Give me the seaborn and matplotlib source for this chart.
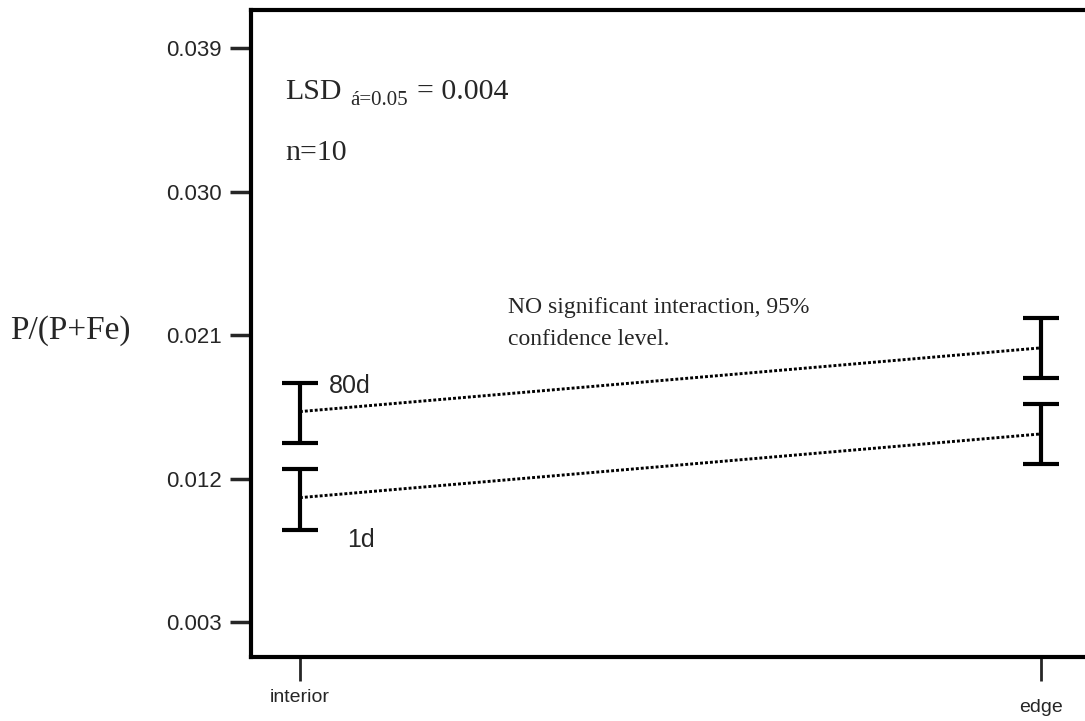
import matplotlib
matplotlib.use("Agg")
import matplotlib.pyplot as plt
import matplotlib.transforms as mtransforms
import seaborn as sns
import pandas as pd

# Data
locations = ["interior", "edge"]
groups = ["80d", "1d"]
mean_80d = [0.0162, 0.0202]
low_80d = [0.0142, 0.0183]
high_80d = [0.0180, 0.0221]
mean_1d = [0.0108, 0.0148]
low_1d = [0.0088, 0.0129]
high_1d = [0.0126, 0.0167]
yticks = [0.003, 0.012, 0.021, 0.030, 0.039]
ytick_labels = ["0.003", "0.012", "0.021", "0.030", "0.039"]

sns.set_style("white")
plt.rcParams["font.family"] = ["Liberation Sans", "DejaVu Sans"]

fig = plt.figure(figsize=(10.85, 7.21), dpi=100)
W, H = 1085, 721
left, right, top, bottom = 251, 1085, 10, 657
ax = fig.add_axes([left / W, 1 - bottom / H, (right - left) / W, (bottom - top) / H])

df = pd.DataFrame({
    "x": [0, 1, 0, 1],
    "y": mean_80d + mean_1d,
    "group": [groups[0]] * 2 + [groups[1]] * 2,
})
sns.lineplot(data=df, x="x", y="y", units="group", estimator=None, color="black",
             lw=2.1, linestyle=(0, (1, 0.7)), ax=ax, legend=False)

xs = [0, 1]
for m, lo, hi in [(mean_80d, low_80d, high_80d), (mean_1d, low_1d, high_1d)]:
    err = [[m[i] - lo[i] for i in range(2)], [hi[i] - m[i] for i in range(2)]]
    ax.errorbar(xs, m, yerr=err, fmt="none", ecolor="black", elinewidth=3,
                capsize=12.8, capthick=3)

ax.set_xlim(-0.066, 1.059)
ax.set_ylim(0.0008, 0.0414)
ax.set_xticks(xs)
ax.set_xticklabels(locations, fontsize=14)
ax.set_yticks(yticks)
ax.set_yticklabels(ytick_labels, fontsize=16)
ax.tick_params(axis="y", direction="out", length=15, width=2.5, pad=6, left=True)
ax.tick_params(axis="x", direction="out", length=17, width=2, pad=6, bottom=True)
# "edge" label sits a little lower in the reference
lbl = ax.get_xticklabels()[1]
lbl.set_transform(lbl.get_transform() + mtransforms.ScaledTranslation(0, -7 / 72, fig.dpi_scale_trans))

for s in ["left", "top", "bottom"]:
    ax.spines[s].set_visible(True)
    ax.spines[s].set_color("black")
    ax.spines[s].set_linewidth(3)
ax.spines["right"].set_visible(False)

serif = ["Liberation Serif", "DejaVu Serif"]
ax.set_xlabel("")
ax.set_ylabel("P/(P+Fe)", family=serif, fontsize=24, rotation=0, ha="center", va="center")
ax.yaxis.set_label_coords(-0.217, 0.505)

ax.text(0.041, 0.862, "LSD", transform=ax.transAxes, family=serif, fontsize=21.5, va="baseline")
ax.text(0.119, 0.853, "á=0.05", transform=ax.transAxes, family=serif, fontsize=15, va="baseline")
ax.text(0.199, 0.862, "= 0.004", transform=ax.transAxes, family=serif, fontsize=21.5, va="baseline")
ax.text(0.041, 0.768, "n=10", transform=ax.transAxes, family=serif, fontsize=21.5, va="baseline")
ax.text(0.308, 0.532, "NO significant interaction, 95%", transform=ax.transAxes,
        family=serif, fontsize=17, va="baseline")
ax.text(0.308, 0.482, "confidence level.", transform=ax.transAxes,
        family=serif, fontsize=17, va="baseline")

ax.text(0.039, 0.01736, "80d", fontsize=18, va="baseline", ha="left")
ax.text(0.0635, 0.0077, "1d", fontsize=18, va="baseline", ha="left")

fig.savefig("out.png", dpi=100)
